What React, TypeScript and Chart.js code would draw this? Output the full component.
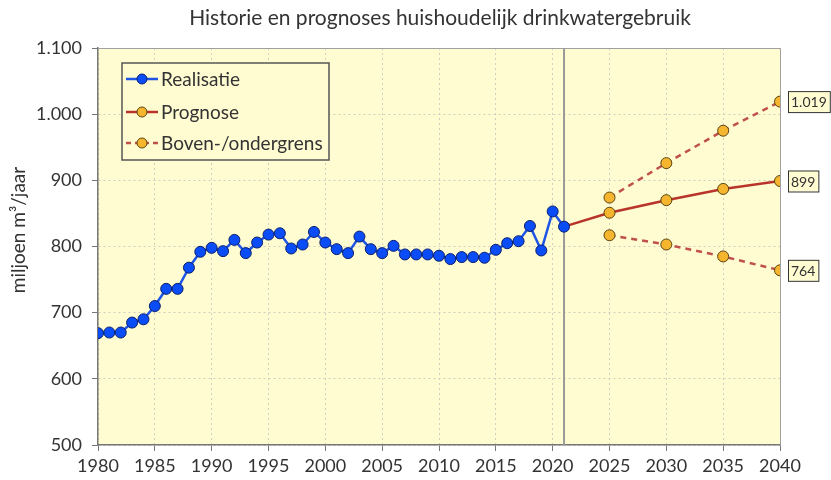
import React, { useEffect, useRef } from "react";
import { Chart, registerables } from "chart.js";
Chart.register(...registerables);

const realYears = [1980, 1981, 1982, 1983, 1984, 1985, 1986, 1987, 1988, 1989, 1990, 1991, 1992, 1993, 1994, 1995, 1996, 1997, 1998, 1999, 2000, 2001, 2002, 2003, 2004, 2005, 2006, 2007, 2008, 2009, 2010, 2011, 2012, 2013, 2014, 2015, 2016, 2017, 2018, 2019, 2020, 2021];
const realValues = [669, 670, 670, 685, 690, 710, 736, 736, 768, 792, 798, 793, 810, 790, 806, 818, 820, 797, 803, 822, 806, 796, 790, 815, 796, 790, 801, 788, 788, 788, 786, 781, 784, 784, 783, 795, 805, 808, 831, 794, 853, 830];
const progYears = [2021, 2025, 2030, 2035, 2040];
const progValues = [830, 851, 870, 887, 899];
const boundYears = [2025, 2030, 2035, 2040];
const upperValues = [874, 926, 975, 1019];
const lowerValues = [817, 803, 785, 764];
const yMin = 500;
const yMax = 1100;
const xMin = 1980;
const xMax = 2040;
const splitYear = 2021;
const chartTitle = "Historie en prognoses huishoudelijk drinkwatergebruik";
const yTitle = "miljoen m³/jaar";
const legendLabels = ["Realisatie", "Prognose", "Boven-/ondergrens"];

const FONT = "Lato";
const TEXT = "#333333";
const BLUE_LINE = "#1f55e6";
const BLUE_FILL = "#0a4cf5";
const BLUE_BORDER = "#0b1f6e";
const RED = "#b8342a";
const RED_DASH = "#c0504d";
const ORANGE = "#f5b52e";
const ORANGE_BORDER = "#5a4410";
const PLOT_BG = "#fffcd2";

function fmt(v: number): string {
  if (v >= 1000) return Math.floor(v / 1000) + "." + String(v % 1000).padStart(3, "0");
  return String(v);
}

const toPts = (xs: number[], ys: number[]) => xs.map((x, i) => ({ x, y: ys[i] }));

export default function App() {
  const ref = useRef<HTMLCanvasElement | null>(null);
  useEffect(() => {
    const canvas = ref.current;
    if (!canvas) return;

    const decor = {
      id: "decor",
      beforeDraw(chart: any) {
        const { ctx, chartArea: a } = chart;
        ctx.save();
        ctx.fillStyle = PLOT_BG;
        ctx.fillRect(a.left, a.top, a.right - a.left, a.bottom - a.top);
        ctx.restore();
      },
      beforeDatasetsDraw(chart: any) {
        const { ctx, chartArea: a, scales } = chart;
        ctx.save();
        ctx.strokeStyle = "#a0a0a0";
        ctx.lineWidth = 1;
        ctx.beginPath();
        ctx.moveTo(a.left, a.top + 0.5);
        ctx.lineTo(a.right + 0.5, a.top + 0.5);
        ctx.lineTo(a.right + 0.5, a.bottom);
        ctx.stroke();
        const sx = scales.x.getPixelForValue(splitYear);
        ctx.strokeStyle = "#9a9a9a";
        ctx.lineWidth = 2;
        ctx.beginPath();
        ctx.moveTo(sx, a.top);
        ctx.lineTo(sx, a.bottom);
        ctx.stroke();
        ctx.restore();
      },
      afterDraw(chart: any) {
        const { ctx, scales } = chart;
        ctx.save();
        // title
        ctx.fillStyle = TEXT;
        ctx.font = `21px ${FONT}`;
        ctx.textAlign = "center";
        ctx.textBaseline = "middle";
        ctx.fillText(chartTitle, 440, 18);
        // y title
        ctx.save();
        ctx.translate(19, 230);
        ctx.rotate(-Math.PI / 2);
        ctx.font = `19px ${FONT}`;
        ctx.fillText(yTitle, 0, 0);
        ctx.restore();

        // legend
        const lx = 122, ly = 63, lw = 207, lh = 97;
        ctx.fillStyle = PLOT_BG;
        ctx.fillRect(lx, ly, lw, lh);
        ctx.strokeStyle = "#555555";
        ctx.lineWidth = 1.5;
        ctx.strokeRect(lx, ly, lw, lh);
        const rows = [79, 112, 143];
        const styles = [
          { line: BLUE_LINE, dash: [] as number[], fill: BLUE_FILL, border: BLUE_BORDER },
          { line: RED, dash: [] as number[], fill: ORANGE, border: ORANGE_BORDER },
          { line: RED_DASH, dash: [5, 4], fill: ORANGE, border: ORANGE_BORDER },
        ];
        rows.forEach((ry, i) => {
          const s = styles[i];
          ctx.strokeStyle = s.line;
          ctx.lineWidth = 2.5;
          ctx.setLineDash(s.dash);
          ctx.beginPath();
          ctx.moveTo(126, ry);
          ctx.lineTo(158, ry);
          ctx.stroke();
          ctx.setLineDash([]);
          ctx.beginPath();
          ctx.arc(142, ry, 5, 0, Math.PI * 2);
          ctx.fillStyle = s.fill;
          ctx.fill();
          ctx.strokeStyle = s.border;
          ctx.lineWidth = 1;
          ctx.stroke();
          ctx.fillStyle = TEXT;
          ctx.font = `19px ${FONT}`;
          ctx.textAlign = "left";
          ctx.textBaseline = "middle";
          ctx.fillText(legendLabels[i], 161, ry + 1);
        });

        // end labels
        const endVals = [upperValues[upperValues.length - 1], progValues[progValues.length - 1], lowerValues[lowerValues.length - 1]];
        const ex = scales.x.getPixelForValue(xMax);
        endVals.forEach((v) => {
          const py = scales.y.getPixelForValue(v);
          const txt = fmt(v);
          ctx.font = `14px ${FONT}`;
          const tw = ctx.measureText(txt).width;
          const bx = ex + 8, bw = tw + 6, bh = 21, by = py - bh / 2;
          ctx.fillStyle = PLOT_BG;
          ctx.fillRect(bx, by, bw, bh);
          ctx.strokeStyle = "#333333";
          ctx.lineWidth = 1;
          ctx.strokeRect(bx + 0.5, by + 0.5, bw, bh);
          ctx.fillStyle = TEXT;
          ctx.textAlign = "left";
          ctx.textBaseline = "middle";
          ctx.fillText(txt, bx + 3, py + 1);
        });
        ctx.restore();
      },
    };

    const chart = new Chart(canvas, {
      type: "line",
      data: {
        datasets: [
          {
            label: legendLabels[0],
            data: toPts(realYears, realValues),
            borderColor: BLUE_LINE,
            backgroundColor: BLUE_FILL,
            pointBackgroundColor: BLUE_FILL,
            pointBorderColor: BLUE_BORDER,
            pointBorderWidth: 1,
            pointRadius: 5.5,
            borderWidth: 2.5,
            order: 0,
          },
          {
            label: legendLabels[1],
            data: toPts(progYears, progValues),
            borderColor: RED,
            pointBackgroundColor: ORANGE,
            pointBorderColor: ORANGE_BORDER,
            pointBorderWidth: 1,
            pointRadius: progYears.map((y) => (y === splitYear ? 0 : 5.5)),
            borderWidth: 2.5,
            order: 1,
          },
          {
            label: legendLabels[2],
            data: toPts(boundYears, upperValues),
            borderColor: RED_DASH,
            borderDash: [6, 5],
            pointBackgroundColor: ORANGE,
            pointBorderColor: ORANGE_BORDER,
            pointBorderWidth: 1,
            pointRadius: 5.5,
            borderWidth: 2.5,
            order: 2,
          },
          {
            label: legendLabels[2] + " (onder)",
            data: toPts(boundYears, lowerValues),
            borderColor: RED_DASH,
            borderDash: [6, 5],
            pointBackgroundColor: ORANGE,
            pointBorderColor: ORANGE_BORDER,
            pointBorderWidth: 1,
            pointRadius: 5.5,
            borderWidth: 2.5,
            order: 3,
          },
        ],
      },
      options: {
        animation: false,
        responsive: false,
        maintainAspectRatio: false,
        layout: { padding: { left: 0, right: 51, top: 48, bottom: 0 } },
        plugins: { legend: { display: false }, title: { display: false }, tooltip: { enabled: false } },
        scales: {
          x: {
            type: "linear",
            min: xMin,
            max: xMax,
            ticks: {
              stepSize: 5,
              color: TEXT,
              font: { family: FONT, size: 18 },
              padding: 4,
              maxRotation: 0,
              callback: (v: any) => String(v),
            },
            grid: { color: "#cfcfbf", tickColor: "#777777", tickLength: 6, tickBorderDash: [] },
            border: { color: "#777777", width: 1.5, dash: [2, 3] },
            afterFit: (s: any) => { s.height = 35; },
          },
          y: {
            min: yMin,
            max: yMax,
            ticks: {
              stepSize: 100,
              color: TEXT,
              font: { family: FONT, size: 18 },
              padding: 10,
              callback: (v: any) => fmt(Number(v)),
            },
            grid: { color: "#cfcfbf", tickColor: "#777777", tickLength: 6, tickBorderDash: [] },
            border: { color: "#777777", width: 1.5, dash: [2, 3] },
            afterFit: (s: any) => { s.width = 98; },
          },
        },
      },
      plugins: [decor],
    } as any);
    return () => chart.destroy();
  }, []);

  return (
    <div style={{ position: "fixed", left: 0, top: 0, width: 831, height: 480, background: "#ffffff" }}>
      <canvas ref={ref} width={831} height={480} style={{ width: 831, height: 480, display: "block" }} />
    </div>
  );
}
